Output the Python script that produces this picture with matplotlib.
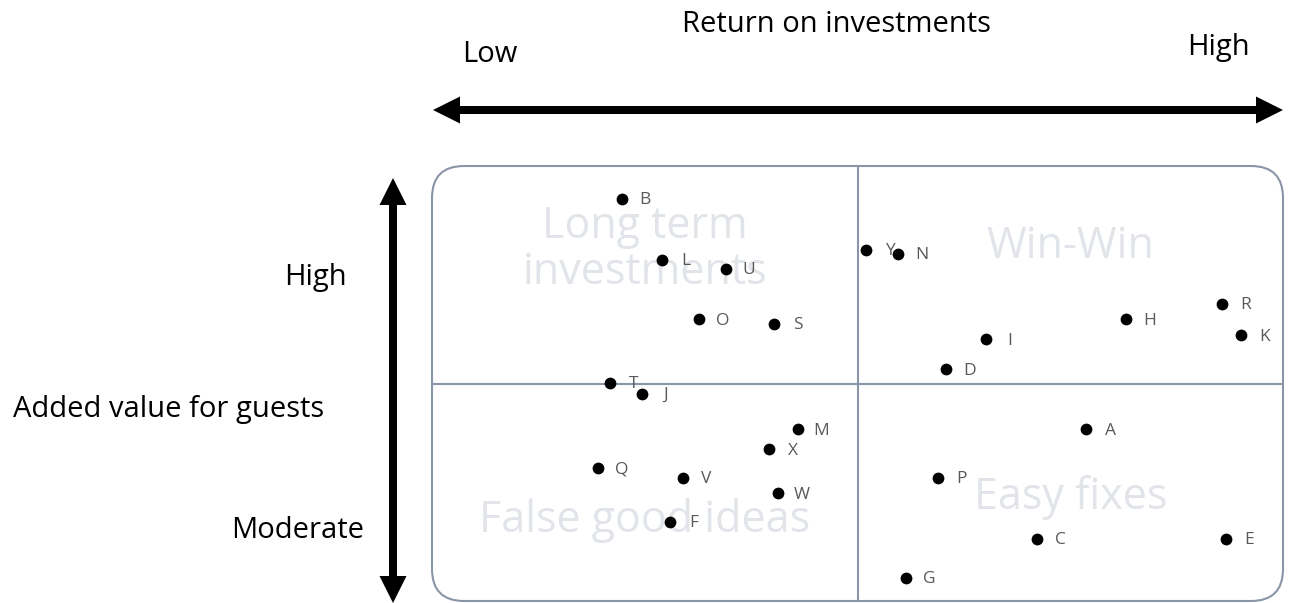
import matplotlib
matplotlib.use("Agg")
import matplotlib.pyplot as plt
from matplotlib.patches import FancyArrow, FancyBboxPatch

# initiatives: return on investment (x, 0-10) vs added value for guests (y, 0-10)
LABELS = ["B", "L", "U", "O", "S", "T", "J", "M", "X", "Q", "V", "W", "F",
          "Y", "N", "H", "R", "K", "I", "D", "A", "P", "C", "E", "G"]
ROI = [2.23, 2.70, 3.45, 3.14, 4.02, 2.09, 2.47, 4.30, 3.96, 1.95, 2.95, 4.07, 2.80,
       5.10, 5.48, 8.16, 9.28, 9.51, 6.51, 6.04, 7.69, 5.95, 7.11, 9.33, 5.57]
VALUE = [9.24, 7.84, 7.63, 6.48, 6.37, 5.01, 4.76, 3.95, 3.49, 3.06, 2.83, 2.48, 1.82,
         8.07, 7.98, 6.48, 6.83, 6.11, 6.02, 5.33, 3.95, 2.83, 1.43, 1.43, 0.53]

QUADRANTS = ["Long term\ninvestments", "Win-Win", "False good ideas", "Easy fixes"]
QUADRANT_X = [2.5, 7.5, 2.5, 7.5]
QUADRANT_Y = [8.07, 8.14, 1.86, 2.37]

FONT = ["Open Sans", "DejaVu Sans"]
FRAME = "#8a96a8"
GHOST = "#e1e4e9"

W, H = 1291, 603
fig = plt.figure(figsize=(W / 100, H / 100), dpi=100)

# background layer in pixel units for the frame, arrows and axis captions
bg = fig.add_axes([0, 0, 1, 1])
bg.set_xlim(0, W)
bg.set_ylim(H, 0)
bg.axis("off")

bg.add_patch(FancyBboxPatch((432, 166), 851, 435, boxstyle="round,pad=0,rounding_size=32",
                            fill=False, edgecolor=FRAME, linewidth=1.5))

arrow = dict(width=8, head_width=27, head_length=27, length_includes_head=True,
             color="black", linewidth=0)
bg.add_patch(FancyArrow(858, 110, -425, 0, **arrow))
bg.add_patch(FancyArrow(858, 110, 425, 0, **arrow))
bg.add_patch(FancyArrow(393, 390, 0, -212, **arrow))
bg.add_patch(FancyArrow(393, 390, 0, 213, **arrow))

caption = dict(family=FONT, fontsize=21, color="black", ha="center", va="center")
bg.text(836, 25, "Return on investments", **caption)
bg.text(490, 55, "Low", **caption)
bg.text(1218, 47, "High", **caption)
bg.text(315, 278, "High", **caption)
bg.text(169, 410, "Added value for guests", **caption)
bg.text(298, 530, "Moderate", **caption)

# quadrant plot
ax = fig.add_axes([432 / W, 2 / H, 851 / W, 435 / H])
ax.set_xlim(0, 10)
ax.set_ylim(0, 10)
ax.axis("off")
ax.axvline(5, color=FRAME, linewidth=1.5, zorder=1)
ax.axhline(5, color=FRAME, linewidth=1.5, zorder=1)

for name, qx, qy in zip(QUADRANTS, QUADRANT_X, QUADRANT_Y):
    ax.text(qx, qy, name, family=FONT, fontsize=31, color=GHOST,
            ha="center", va="center", linespacing=1.05, zorder=0)

ax.scatter(ROI, VALUE, s=72, color="black", linewidths=0, zorder=3, clip_on=False)
for label, x, y in zip(LABELS, ROI, VALUE):
    ax.annotate(label, (x, y), xytext=(17, -1), textcoords="offset points",
                family=FONT, fontsize=12.5, color="#595959", va="center", ha="center", zorder=4)

fig.savefig("out.png", dpi=100)
